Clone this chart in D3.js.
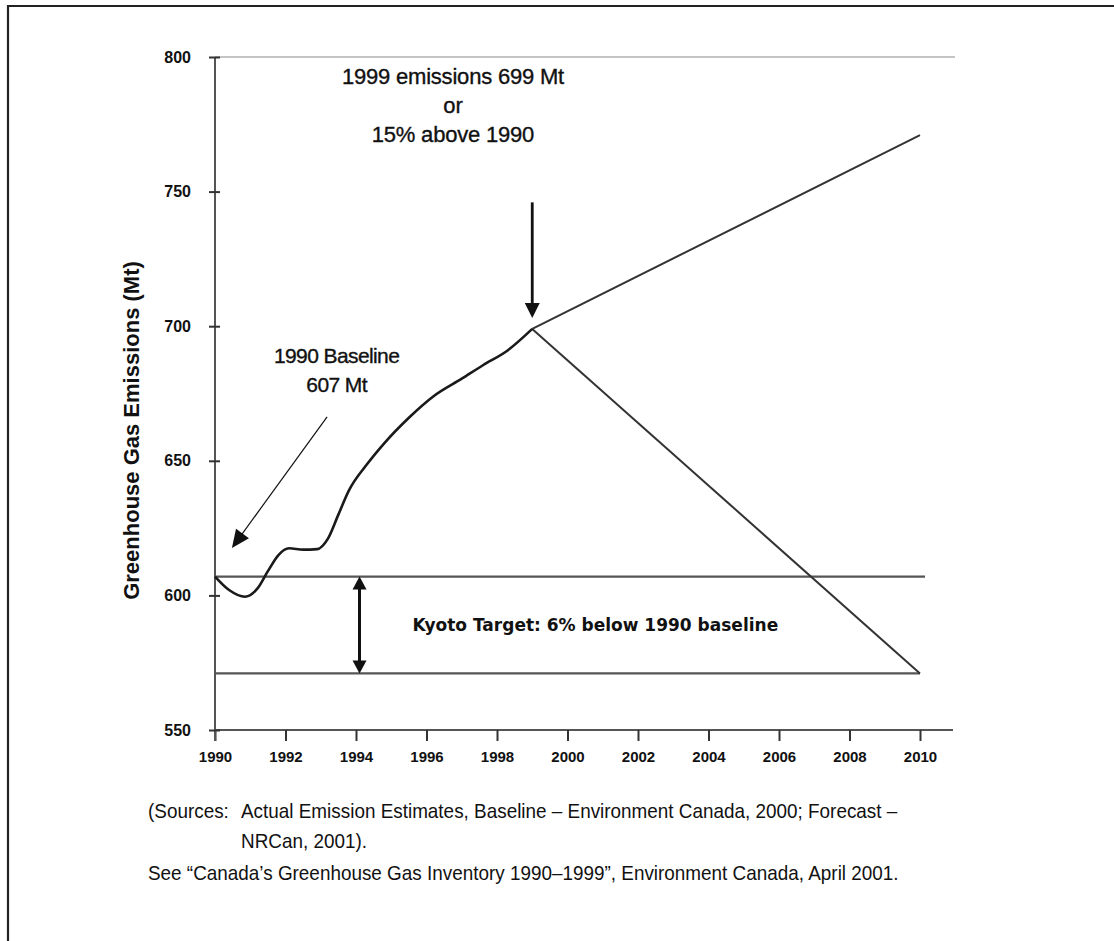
<!DOCTYPE html>
<html>
<head>
<meta charset="utf-8">
<script src="https://cdn.jsdelivr.net/npm/d3@7"></script>
<style>
  html, body { margin: 0; padding: 0; background: #fff; }
  svg { display: block; }
  text { font-family: "Liberation Sans", Arial, sans-serif; fill: #111; }
</style>
</head>
<body>
<svg id="chart" width="1114" height="941"></svg>
<script>
// ---- data ----
const actualYears  = [1990, 1990.4, 1990.85, 1991.2, 1991.5, 1991.8, 1992.1, 1992.5, 1992.9, 1993.2, 1993.5, 1993.8, 1994.3, 1994.8, 1995.5, 1996.2, 1997, 1997.6, 1998.3, 1999];
const actualValues = [607, 602, 599.5, 602.5, 609, 615, 617.5, 617, 617.2, 621, 630, 639, 648.5, 656.5, 666, 674, 680.5, 685.5, 691, 699];
const forecastYears  = [1999, 2010];
const forecastValues = [699, 771];
const targetPathYears  = [1999, 2010];
const targetPathValues = [699, 571];
const baselineValue = 607;
const kyotoTargetValue = 571;
const xTickValues = [1990, 1992, 1994, 1996, 1998, 2000, 2002, 2004, 2006, 2008, 2010];
const yTickValues = [550, 600, 650, 700, 750, 800];
const yAxisTitle = "Greenhouse Gas Emissions (Mt)";
const note1999 = ["1999 emissions 699 Mt", "or", "15% above 1990"];
const noteBaseline = ["1990 Baseline", "607 Mt"];
const noteKyoto = "Kyoto Target: 6% below 1990 baseline";
const footnoteLead = "(Sources:";
const footnotes = [
  "Actual Emission Estimates, Baseline \u2013 Environment Canada, 2000; Forecast \u2013",
  "NRCan, 2001).",
  "See \u201CCanada\u2019s Greenhouse Gas Inventory 1990\u20131999\u201D, Environment Canada, April 2001."
];

// ---- layout ----
const svg = d3.select("#chart");
const x = d3.scaleLinear().domain([1990, 2010]).range([215, 920]);
const y = d3.scaleLinear().domain([550, 800]).range([730, 57]);

// frame
svg.append("path")
  .attr("d", "M8,941V6H1114")
  .attr("fill", "none").attr("stroke", "#222").attr("stroke-width", 2.2);

// top gridline (800)
svg.append("line")
  .attr("x1", x(1990)).attr("x2", x(2010) + 35)
  .attr("y1", y(800)).attr("y2", y(800))
  .attr("stroke", "#c4c4c4").attr("stroke-width", 2);

// x axis
const xAxis = svg.append("g").attr("transform", `translate(0,${y(550)})`)
  .call(d3.axisBottom(x).tickValues(xTickValues).tickFormat(d3.format("d"))
        .tickSizeInner(11).tickSizeOuter(0).tickPadding(21));
xAxis.select(".domain").attr("d", `M${x(1990)},0H${x(2010) + 33}`)
  .attr("stroke", "#555").attr("stroke-width", 2);
xAxis.selectAll(".tick line").attr("stroke", "#333").attr("stroke-width", 2);
xAxis.selectAll(".tick text")
  .style("font-family", "'Liberation Sans', Arial, sans-serif")
  .style("font-size", "15px").style("font-weight", "bold").attr("fill", "#222")
  .attr("dy", "0");

// y axis
const yAxis = svg.append("g").attr("transform", `translate(${x(1990)},0)`)
  .call(d3.axisLeft(y).tickValues(yTickValues).tickFormat(d3.format("d"))
        .tickSizeInner(6).tickSizeOuter(0).tickPadding(18));
yAxis.select(".domain").attr("d", `M0,${y(800)}V${y(550) + 11}`)
  .attr("stroke", "#555").attr("stroke-width", 2);
yAxis.selectAll(".tick line").attr("x1", 5).attr("stroke", "#333").attr("stroke-width", 2);
yAxis.selectAll(".tick text")
  .style("font-family", "'Liberation Sans', Arial, sans-serif")
  .style("font-size", "16px").style("font-weight", "bold").attr("fill", "#222");

// y axis title
svg.append("text")
  .attr("transform", `translate(139,${(y(800) + y(550)) / 2 + 37}) rotate(-90)`)
  .attr("text-anchor", "middle")
  .style("font-size", "22px").style("font-weight", "bold")
  .text(yAxisTitle);

// baseline and target horizontal lines
svg.append("line")
  .attr("x1", x(1990)).attr("x2", x(2010) + 5)
  .attr("y1", y(baselineValue)).attr("y2", y(baselineValue))
  .attr("stroke", "#555").attr("stroke-width", 2.2);
svg.append("line")
  .attr("x1", x(1990)).attr("x2", x(2010))
  .attr("y1", y(kyotoTargetValue)).attr("y2", y(kyotoTargetValue))
  .attr("stroke", "#555").attr("stroke-width", 2.2);

// forecast lines
const line = d3.line().x(d => x(d[0])).y(d => y(d[1]));
svg.append("path")
  .attr("d", line(d3.zip(forecastYears, forecastValues)))
  .attr("fill", "none").attr("stroke", "#333").attr("stroke-width", 2);
svg.append("path")
  .attr("d", line(d3.zip(targetPathYears, targetPathValues)))
  .attr("fill", "none").attr("stroke", "#333").attr("stroke-width", 2);

// actual emissions
svg.append("path")
  .attr("d", line.curve(d3.curveMonotoneX)(d3.zip(actualYears, actualValues)))
  .attr("fill", "none").attr("stroke", "#1a1a1a").attr("stroke-width", 2.6)
  .attr("stroke-linejoin", "round");

// arrow helper
function arrowHead(tx, ty, angle, len, half) {
  const ca = Math.cos(angle), sa = Math.sin(angle);
  const bx = tx - ca * len, by = ty - sa * len;
  return `M${tx},${ty}L${bx - sa * half},${by + ca * half}L${bx + sa * half},${by - ca * half}Z`;
}
function arrow(x1, y1, x2, y2, w, len, half, both) {
  const a = Math.atan2(y2 - y1, x2 - x1);
  const g = svg.append("g");
  g.append("line")
    .attr("x1", both ? x1 + Math.cos(a) * len * 0.8 : x1).attr("y1", both ? y1 + Math.sin(a) * len * 0.8 : y1)
    .attr("x2", x2 - Math.cos(a) * len * 0.8).attr("y2", y2 - Math.sin(a) * len * 0.8)
    .attr("stroke", "#111").attr("stroke-width", w);
  g.append("path").attr("d", arrowHead(x2, y2, a, len, half)).attr("fill", "#111");
  if (both) g.append("path").attr("d", arrowHead(x1, y1, a + Math.PI, len, half)).attr("fill", "#111");
}
// 1999 arrow
arrow(x(1999), y(746), x(1999), y(703), 2.8, 15, 7.5, false);
// baseline diagonal arrow
arrow(x(1993.18), y(666.3), x(1990.48), y(617.6), 1.2, 18, 8, false);
// kyoto double arrow
arrow(x(1994.1), y(baselineValue), x(1994.1), y(kyotoTargetValue), 3, 13, 7, true);

// annotations
const t1 = svg.append("text").attr("text-anchor", "middle")
  .style("font-size", "22px").style("letter-spacing", "-0.2px")
  .attr("stroke", "#111").attr("stroke-width", 0.35);
note1999.forEach((s, i) => t1.append("tspan").attr("x", x(1996.75)).attr("y", y(790) + i * 29).text(s));

const t2 = svg.append("text").attr("text-anchor", "middle")
  .style("font-size", "21px").style("letter-spacing", "-0.6px")
  .attr("stroke", "#111").attr("stroke-width", 0.35);
noteBaseline.forEach((s, i) => t2.append("tspan").attr("x", x(1993.45)).attr("y", y(686.3) + i * 29).text(s));

svg.append("text").attr("x", x(1995.6)).attr("y", y(586.8))
  .style("font-family", "'DejaVu Sans', Verdana, sans-serif")
  .style("font-size", "17px").style("font-weight", "bold")
  .text(noteKyoto);

// footnotes (condensed look via horizontal scaling)
const fn = svg.append("g").style("font-size", "21px");
function fnText(px, py, s) {
  fn.append("text").attr("transform", `translate(${px},${py}) scale(0.9,1)`).text(s);
}
fnText(148, 818, footnoteLead);
fnText(241, 818, footnotes[0]);
fnText(241, 848, footnotes[1]);
fnText(148, 880, footnotes[2]);
</script>
</body>
</html>
